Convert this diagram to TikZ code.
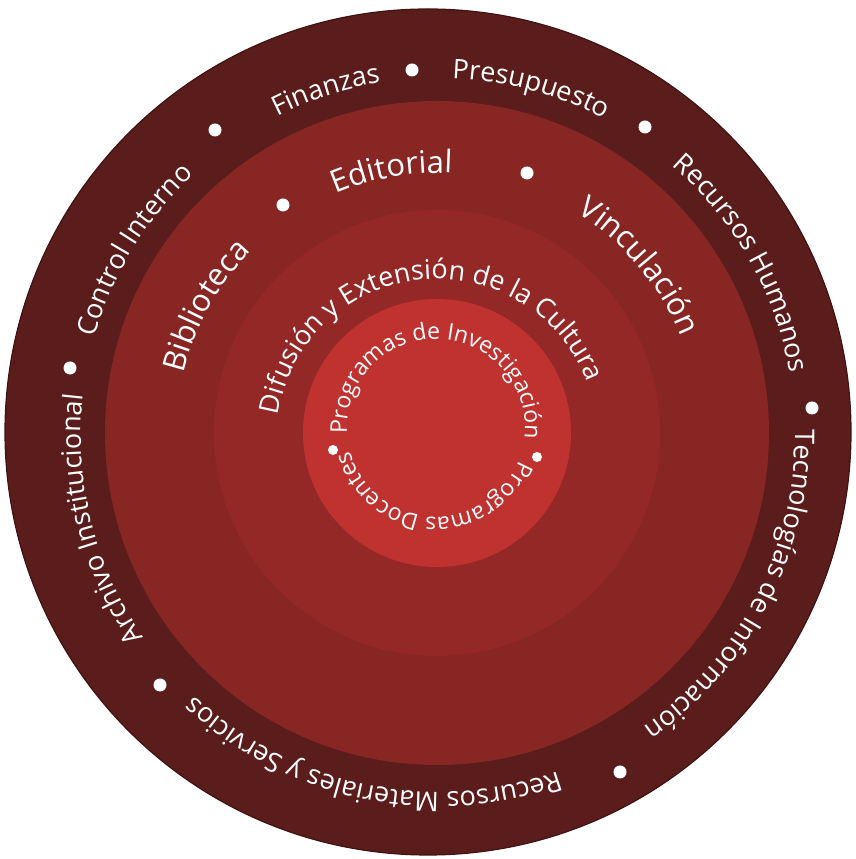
\documentclass[tikz,border=0pt]{standalone}
\usepackage{fontspec}
\usetikzlibrary{decorations.text}
\newfontfamily\osans{Open Sans}
\definecolor{ringA}{HTML}{5A1D1B}
\definecolor{ringB}{HTML}{872623}
\definecolor{ringC}{HTML}{942826}
\definecolor{ringD}{HTML}{C0322F}
\definecolor{rimA}{HTML}{401312}
\newcommand\fmtouter{\osans\fontsize{27}{27}\selectfont\color{white}}
\newcommand\fmtmid{\osans\fontsize{31}{31}\selectfont\color{white}}
\newcommand\fmtdif{\osans\fontsize{27}{27}\selectfont\color{white}}
\newcommand\fmtinner{\osans\fontsize{23}{23}\selectfont\color{white}}
% #1 centre, #2 mid angle, #3 baseline radius, #4 format, #5 text
\newcommand\ringtext[5]{%
  \path[decorate,decoration={text along path,text align=center,text={|#4|#5}}]
    ([shift={(#2+110:#3)}]#1) arc[start angle=#2+110, end angle=#2-110, radius=#3];}
\begin{document}
\begin{tikzpicture}[x=1pt,y=1pt,
  dotbig/.style={circle,fill=white,inner sep=0pt,minimum size=13pt},
  dotsmall/.style={circle,fill=white,inner sep=0pt,minimum size=10pt}]
\useasboundingbox (0,0) rectangle (856,859);
\fill[white] (0,0) rectangle (856,859);
\coordinate (O) at (428,427);
\coordinate (I) at (437,426);
\coordinate (T) at (438,424);
\coordinate (D) at (437,419);
\coordinate (P) at (436,431);
% discs
\filldraw[fill=ringA,draw=rimA,line width=1.2pt] (O) circle[radius=423];
\fill[ringB] (I) circle[radius=332];
\fill[ringC] (I) circle[radius=223];
\fill[ringD] (I) circle[radius=134];
% outer ring texts
\ringtext{T}{108}{357}{\fmtouter}{Finanzas}
\ringtext{T}{75}{357}{\fmtouter}{Presupuesto}
\ringtext{T}{29.5}{357}{\fmtouter}{Recursos Humanos}
\ringtext{T}{-27}{357}{\fmtouter}{Tecnologías de Información}
\ringtext{T}{-101.7}{357}{\fmtouter}{Recursos Materiales y Servicios}
\ringtext{T}{-166}{357}{\fmtouter}{Archivo Institucional}
\ringtext{T}{148.7}{357}{\fmtouter}{Control Interno}
% outer dots
\node[dotbig] (o1) at (412,789) {};
\node[dotbig] (o2) at (645,732) {};
\node[dotbig] (o3) at (812,451) {};
\node[dotbig] (o4) at (620,87) {};
\node[dotbig] (o5) at (160,174) {};
\node[dotbig] (o6) at (70,491) {};
\node[dotbig] (o7) at (215,729) {};
% middle ring texts
\ringtext{T}{151}{262}{\fmtmid}{Biblioteca}
\ringtext{T}{100}{262}{\fmtmid}{Editorial}
\ringtext{T}{40}{262}{\fmtmid}{Vinculación}
\node[dotbig] (m1) at (283,654) {};
\node[dotbig] (m2) at (527,686) {};
% difusion
\ringtext{D}{96}{161}{\fmtdif}{Difusión y Extensión de la Cultura}
% inner
\ringtext{P}{88.5}{89}{\fmtinner}{Programas de Investigación}
\ringtext{P}{-93.3}{89}{\fmtinner}{Programas Docentes}
\node[dotsmall] (i1) at (333,409) {};
\node[dotsmall] (i2) at (537,402) {};
\end{tikzpicture}
\end{document}
